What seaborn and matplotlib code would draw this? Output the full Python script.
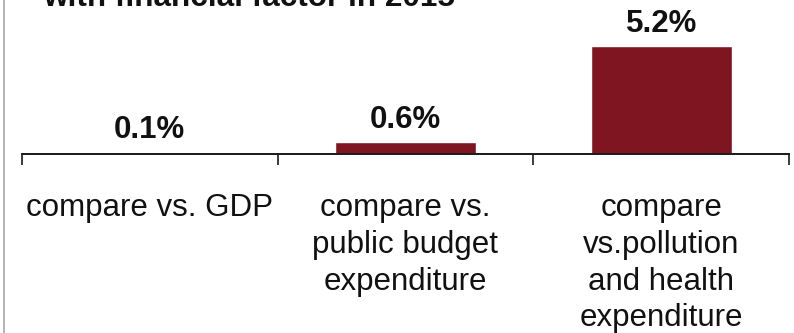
import matplotlib
matplotlib.use("Agg")
import matplotlib.pyplot as plt
from matplotlib.lines import Line2D
import seaborn as sns

# Data
categories = [
    "compare vs. GDP",
    "compare vs.\npublic budget\nexpenditure",
    "compare\nvs.pollution\nand health\nexpenditure",
]
values = [0.1, 0.6, 5.2]
value_labels = ["0.1%", "0.6%", "5.2%"]
title_text = "with financial factor in 2015"

BAR_COLOR = "#7f1520"
TEXT_COLOR = "#111111"

sns.set_theme(style="white")
plt.rcParams["font.family"] = ["Liberation Sans", "DejaVu Sans"]

W, H, DPI = 794, 333, 100
fig = plt.figure(figsize=(W / DPI, H / DPI), dpi=DPI)
fig.patch.set_facecolor("white")

# axes placement in pixels (x from left, y from top)
ax_left, ax_right = 21.7, 789.3
ax_base, ax_top = 154.3, 0.0
ax = fig.add_axes([
    ax_left / W,
    (H - ax_base) / H,
    (ax_right - ax_left) / W,
    (ax_base - ax_top) / H,
])
ax.set_facecolor("white")

sns.barplot(x=categories, y=values, color=BAR_COLOR, saturation=1,
            width=0.55, ax=ax)

px_per_unit = (ax_base - 46.0) / 5.2
ax.set_xlim(-0.5, 2.5)
ax.set_ylim(0, (ax_base - ax_top) / px_per_unit)

# value labels above each bar
for i, (v, lab) in enumerate(zip(values, value_labels)):
    ax.annotate(lab, xy=(i, v), xytext=(0, 10), textcoords="offset points",
                ha="center", va="baseline", fontsize=22.5,
                fontweight="bold", color=TEXT_COLOR, annotation_clip=False)

# spines and ticks
for side in ("left", "right", "top"):
    ax.spines[side].set_visible(False)
ax.spines["bottom"].set_color("#1a1a1a")
ax.spines["bottom"].set_linewidth(1.4)

ax.set_yticks([])
ax.set_xticks([0, 1, 2])
ax.set_xticklabels(categories, fontsize=22.5, color=TEXT_COLOR,
                   linespacing=1.29)
ax.set_xticks([-0.5, 0.5, 1.5, 2.5], minor=True)
ax.tick_params(axis="x", which="major", length=0, pad=28)
ax.tick_params(axis="x", which="minor", length=8, width=1.2,
               color="#1a1a1a", direction="out", bottom=True)
ax.set_xlabel("")
ax.set_ylabel("")

# title line, partly above the canvas
fig.text(43 / W, 1 - 5.5 / H, title_text, ha="left", va="baseline",
         fontsize=22.7, fontweight="bold", color=TEXT_COLOR)

# thin grey frame line on the left
fig.add_artist(Line2D([3.5 / W, 3.5 / W], [0, 1], transform=fig.transFigure,
                      color="#a8a8a8", linewidth=1.2))

fig.savefig("out.png", dpi=DPI, facecolor="white")
